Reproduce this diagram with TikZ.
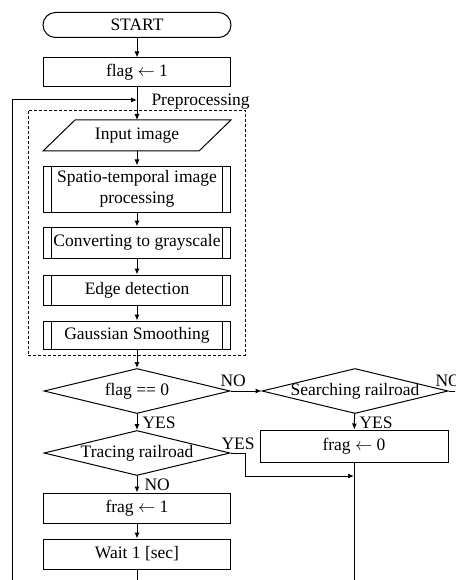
\documentclass[tikz,border=0pt]{standalone}
\usepackage{fontspec}
\setmainfont{Liberation Serif}
\usetikzlibrary{shapes.geometric,arrows.meta}
\begin{document}
\begin{tikzpicture}[x=1pt,y=-1pt,
  font=\fontsize{17.5}{20}\selectfont,
  line width=1pt,
  arr/.style={-{Latex[length=6pt,width=5pt]}},
  procbox/.style={draw, rectangle, minimum width=187pt, minimum height=30pt, inner sep=0pt, align=center},
  subproc/.style={procbox, path picture={
      \draw ([xshift=8pt]path picture bounding box.north west) -- ([xshift=8pt]path picture bounding box.south west);
      \draw ([xshift=-8pt]path picture bounding box.north east) -- ([xshift=-8pt]path picture bounding box.south east);}},
  terminal/.style={draw, rectangle, rounded corners=12.5pt, minimum width=188pt, minimum height=25pt, inner sep=0pt},
  iobox/.style={rectangle, minimum width=155pt, minimum height=30pt, inner sep=0pt},
  dia/.style={draw, diamond, minimum width=186pt, minimum height=45pt, inner sep=0pt, shape aspect=4},
  lbl/.style={inner sep=0pt, anchor=west},
  prebox/.style={draw, dashed, dash pattern=on 3pt off 2pt, line width=0.8pt, rectangle, minimum width=217pt, minimum height=245pt, inner sep=0pt}
]
\useasboundingbox (0,0) rectangle (455,580);
\clip (0,0) rectangle (455,580);

% dashed preprocessing frame
\node[prebox] (pre) at (136.5,232.5) {};
\node[inner sep=0pt, anchor=base west] (prel) at (151,106) {Preprocessing};

\node[terminal] (start) at (137,25) {START};
\node[procbox, minimum height=29pt] (f1) at (137,72.5) {flag $\leftarrow$ 1};
\node[iobox] (inp) at (137,135.5) {Input image};
\draw (inp.north west) ++(16pt,0) -- ([xshift=16pt]inp.north east) -- ([xshift=-16pt]inp.south east) -- ([xshift=-16pt]inp.south west) -- cycle;
\node[subproc, minimum height=46pt, font=\fontsize{17.5}{21}\selectfont] (sp) at (137,189) {Spatio-temporal image\\processing};
\node[subproc, minimum height=31pt] (cg) at (137,242.5) {Converting to grayscale};
\node[subproc] (ed) at (137,290) {Edge detection};
\node[subproc, minimum height=28pt] (gs) at (137,335) {Gaussian Smoothing};

\node[dia] (d1) at (137,391) {\makebox[0pt]{flag == 0}};
\node[dia] (d2) at (355,391) {\makebox[0pt]{Searching railroad}};
\node[dia] (d3) at (137,453) {\makebox[0pt]{Tracing railroad}};

\node[procbox, minimum height=32pt, minimum width=188pt] (f0) at (354,446) {frag $\leftarrow$ 0};
\node[procbox] (f1b) at (137,508) {frag $\leftarrow$ 1};
\node[procbox] (wait) at (137,554) {Wait 1 [sec]};

% coordinates
\coordinate (lpb) at (12,590);
\coordinate (lp) at (12,100);
\coordinate (jt) at (137,100);
\coordinate (rout) at (470,391);
\coordinate (tk) at (245,476);
\coordinate (jn) at (354,476);
\coordinate (f0out) at (354,590);
\coordinate (wout) at (137,590);

% connectors
\draw[arr] (start) -- (f1);
\draw (f1) -- (jt);
\draw[arr] (lpb) -- (lp) -- (jt);
\draw[arr] (jt) -- (inp.north);
\draw[arr] (inp) -- (sp);
\draw[arr] (sp) -- (cg);
\draw[arr] (cg) -- (ed);
\draw[arr] (ed) -- (gs);
\draw[arr] (gs) -- (d1);
\draw[arr] (d1) -- (d2);
\draw (d2.east) -- (rout);
\draw[arr] (d1) -- (d3);
\draw[arr] (d2) -- (f0);
\draw[arr] (d3.east) -| (tk) -- (jn);
\draw (f0) -- (f0out);
\draw[arr] (d3) -- (f1b);
\draw[arr] (f1b) -- (wait);
\draw (wait) -- (wout);

% labels
\node[lbl] (no1) at (220,381) {NO};
\node[lbl] (no2) at (435,381) {NO};
\node[lbl] (yes1) at (142,423) {YES};
\node[lbl] (yes2) at (359,423) {YES};
\node[lbl] (yes3) at (221,444) {YES};
\node[lbl] (no3) at (144,485) {NO};
\end{tikzpicture}
\end{document}
